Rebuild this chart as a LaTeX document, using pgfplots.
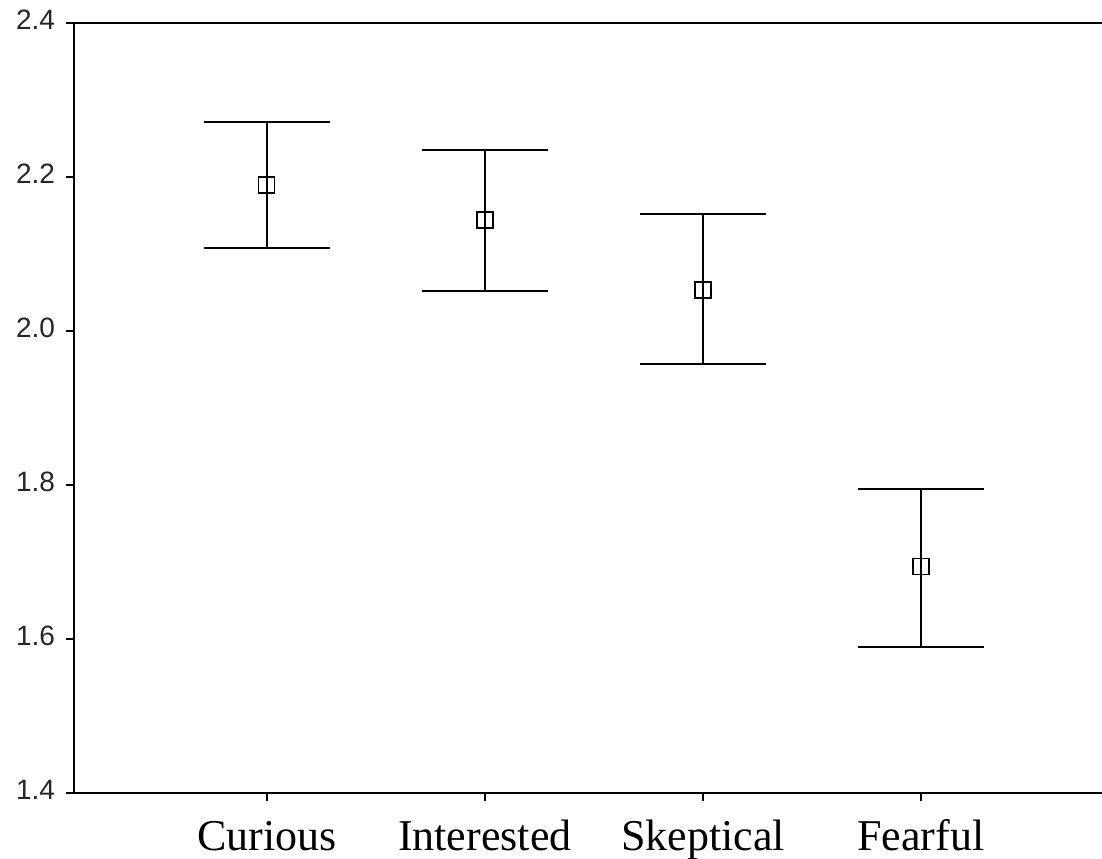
\documentclass[border=0pt]{standalone}
\usepackage{fontspec}
\setmainfont{Liberation Serif}
\newfontfamily\ticksans{Liberation Sans}
\usepackage{pgfplots}
\pgfplotsset{compat=1.18}
\begin{document}
\begin{tikzpicture}
\useasboundingbox (0,0) rectangle (551pt,429pt);
\begin{axis}[
  at={(37pt,32.5pt)}, anchor=south west,
  scale only axis,
  width=514pt, height=385.15pt,
  xmin=0.1165, xmax=4.83,
  ymin=1.4, ymax=2.4,
  axis x line=box, axis y line=left,
  axis line style={line width=1pt, black, -},
  xtick={1,2,3,4},
  xticklabels={Curious,Interested,Skeptical,Fearful},
  xtick pos=bottom,
  ytick={1.4,1.6,1.8,2.0,2.2,2.4},
  tick align=outside,
  major tick length=4pt,
  tick style={line width=1pt, black},
  yticklabel style={font=\ticksans\fontsize{14}{16}\selectfont, text=black!85, /pgf/number format/assume math mode=true, /pgf/number format/fixed, /pgf/number format/fixed zerofill, /pgf/number format/precision=1, xshift=-2pt, yshift=1.5pt},
  xticklabel style={font=\fontsize{22}{24}\selectfont, anchor=base, yshift=-24.5pt},
  clip=false,
]
\addplot[
  only marks, mark=square, mark size=4pt,
  mark options={line width=0.8pt, black, fill=white},
  error bars/.cd, y dir=both, y explicit,
  error bar style={line width=1pt, black},
  error mark options={line width=1pt, black, mark size=31.5pt, rotate=90},
] table[x=x, y=y, y error plus=ep, y error minus=em] {
x y ep em
1 2.189 0.082 0.082
2 2.144 0.091 0.092
3 2.053 0.099 0.096
4 1.694 0.101 0.104
};
\end{axis}
\end{tikzpicture}
\end{document}
